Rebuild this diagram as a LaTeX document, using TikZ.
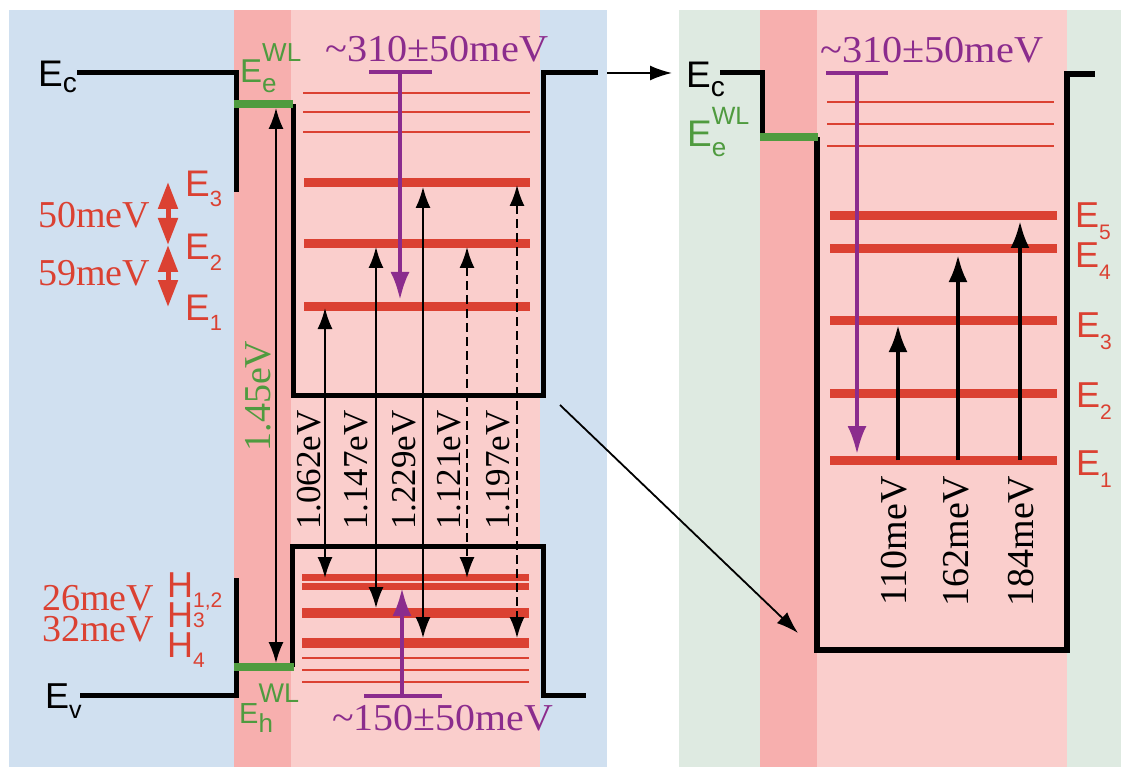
\documentclass[tikz,border=0pt]{standalone}
\usepackage{fontspec}
\setmainfont{Liberation Serif}
\newfontfamily\hv{Liberation Sans}
\usetikzlibrary{arrows.meta}
\definecolor{bgblue}{RGB}{208,224,240}
\definecolor{bggreen}{RGB}{222,234,225}
\definecolor{pinkd}{RGB}{247,175,174}
\definecolor{pinkl}{RGB}{250,206,204}
\definecolor{lred}{RGB}{219,65,50}
\definecolor{lgreen}{RGB}{79,155,63}
\definecolor{lpurple}{RGB}{139,44,141}
\newcommand\fsz[1]{\fontsize{#1}{#1}\selectfont}
\newcommand\plmi{\textpm}
\tikzset{
  lbl/.style={inner sep=0pt, anchor=base west},
  tight/.style={text height=26pt, text depth=0pt},
  lvl/.style={draw=lred, line width=9pt},
  lvlthin/.style={draw=lred, line width=2pt},
  wall/.style={draw=black, line width=5pt, line join=miter},
  wlbar/.style={draw=lgreen, line width=8pt},
  tr/.style={line width=1.8pt, {Latex[length=21pt,width=15pt]}-{Latex[length=21pt,width=15pt]}},
  trd/.style={tr, dash pattern=on 9pt off 5pt},
  up/.style={line width=4pt, -{Latex[length=27pt,width=19pt]}},
  pbar/.style={draw=lpurple, line width=4pt},
  parr/.style={draw=lpurple, line width=4pt, -{Latex[length=28pt,width=19pt]}},
  redarr/.style={draw=lred, line width=5pt, {Triangle[length=27pt,width=19pt]}-{Triangle[length=27pt,width=19pt]}},
  thinarr/.style={line width=1.8pt, -{Latex[length=22pt,width=15pt]}},
  rot/.style={inner sep=0pt, rotate=90, anchor=center},
  serif/.style={font=\fsz{38}},
}
\begin{document}
\begin{tikzpicture}[x=1pt,y=-1pt]
\useasboundingbox (0,0) rectangle (1121,767);
% backgrounds
\fill[bgblue] (9,10) rectangle (607,767);
\fill[pinkd] (234,10) rectangle (291,767);
\fill[pinkl] (291,10) rectangle (540,767);
\fill[bggreen] (679,10) rectangle (1121,767);
\fill[pinkd] (760,10) rectangle (817,767);
\fill[pinkl] (817,10) rectangle (1067,767);

% ---------- left panel levels
\foreach \y in {93,112,132} \draw[lvlthin] (303,\y) -- (530,\y);
\foreach \y in {183,244,306} \draw[lvl] (304,\y) -- (530,\y);
\draw[lvl, line width=7pt] (302,577.5) -- (529,577.5);
\draw[lvl, line width=7pt] (302,586.5) -- (529,586.5);
\foreach \y in {612.5,642.5} \draw[lvl, line width=10pt] (302,\y) -- (529,\y);
\foreach \y in {658,670,682} \draw[lvlthin] (302,\y) -- (529,\y);

% walls left
\draw[wall] (77,73) -- (236,73) -- (236,192);
\draw[wall] (293,104) -- (293,395) -- (543,395) -- (543,73) -- (598,73);
\draw[wall] (80,695) -- (236,695) -- (236,578);
\draw[wall] (292,667) -- (292,546) -- (543,546) -- (543,695) -- (586,695);
\draw[wlbar] (234,104) -- (293,104);
\draw[wlbar] (234,667) -- (294,667);

% transition coordinates (left)
\coordinate (ga) at (276,108); \coordinate (gb) at (276,663);
\coordinate (a1) at (325,308); \coordinate (b1) at (325,578);
\coordinate (a2) at (376,247); \coordinate (b2) at (376,608);
\coordinate (a3) at (423,187); \coordinate (b3) at (423,638);
\coordinate (a4) at (467,247); \coordinate (b4) at (467,578);
\coordinate (a5) at (517,185); \coordinate (b5) at (517,638);
\draw[tr] (ga) -- (gb);
\draw[tr] (a1) -- (b1);
\draw[tr] (a2) -- (b2);
\draw[tr] (a3) -- (b3);
\draw[trd] (a4) -- (b4);
\draw[trd] (a5) -- (b5);

% purple (left)
\coordinate (pt1) at (369,72); \coordinate (pt2) at (432,72);
\coordinate (pa) at (400,72); \coordinate (pb) at (400,300);
\draw[pbar] (pt1) -- (pt2);
\draw[parr] (pa) -- (pb);
\coordinate (qt1) at (364,696); \coordinate (qt2) at (442,696);
\coordinate (qa) at (402,696); \coordinate (qb) at (402,588);
\draw[pbar] (qt1) -- (qt2);
\draw[parr] (qa) -- (qb);

% red spacing arrows
\coordinate (r1) at (168,182); \coordinate (r2) at (168,245); \coordinate (r3) at (168,307);
\draw[redarr] (r1) -- (r2);
\draw[redarr] (r2) -- (r3);

% ---------- right panel levels
\foreach \y in {102,124,146} \draw[lvlthin] (827,\y) -- (1054,\y);
\foreach \y in {216,249,320,393,460} \draw[lvl] (830,\y) -- (1057,\y);
\draw[wall] (720,73) -- (762,73) -- (762,138);
\draw[wall, line width=5.5pt] (817,137) -- (817,650) -- (1067,650) -- (1067,74) -- (1095,74);
\draw[wlbar] (760,137) -- (818,137);

\coordinate (st1) at (826,73); \coordinate (st2) at (888,73);
\coordinate (sa) at (857,73); \coordinate (sb) at (857,454);
\draw[pbar] (st1) -- (st2);
\draw[parr, line width=3.5pt] (sa) -- (sb);

\coordinate (u1a) at (898,460); \coordinate (u1b) at (898,325);
\coordinate (u2a) at (958,460); \coordinate (u2b) at (958,255);
\coordinate (u3a) at (1020,460); \coordinate (u3b) at (1020,221);
\draw[up] (u1a) -- (u1b);
\draw[up] (u2a) -- (u2b);
\draw[up] (u3a) -- (u3b);

% connectors between panels
\coordinate (c1) at (607,73); \coordinate (c2) at (672,73);
\draw[thinarr] (c1) -- (c2);
\coordinate (d1) at (560,405); \coordinate (d2) at (798,633);
\draw[thinarr] (d1) -- (d2);

% ---------- text, left panel
\node[lbl] (ecl) at (38,87) {\hv\fsz{37}E\smash{\raisebox{-6pt}{\fsz{28}c}}};
\node[lbl, text=lgreen] (eel) at (240,83) {\hv\fsz{33}E\rlap{\raisebox{21pt}{\fsz{26}WL}}\smash{\raisebox{-10pt}{\fsz{26}e}}};
\node[lbl] (evl) at (45,708) {\hv\fsz{36}E\smash{\raisebox{-10pt}{\fsz{25}v}}};
\node[lbl, text=lgreen] (ehl) at (239,723) {\hv\fsz{29}E\rlap{\raisebox{21pt}{\fsz{27}WL}}\smash{\raisebox{-9pt}{\fsz{26}h}}};
\node[lbl, text=lred] (e3l) at (185,197) {\hv\fsz{37}E\smash{\raisebox{-10pt}{\fsz{22}3}}};
\node[lbl, text=lred] (e2l) at (185,260) {\hv\fsz{37}E\smash{\raisebox{-10pt}{\fsz{22}2}}};
\node[lbl, text=lred] (e1l) at (185,320) {\hv\fsz{37}E\smash{\raisebox{-10pt}{\fsz{22}1}}};
\node[lbl, tight, text=lred, serif] (m50) at (38,228) {50meV};
\node[lbl, tight, text=lred, serif] (m59) at (38,285) {59meV};
\node[lbl, tight, text=lred, serif] (m26) at (42,610) {26meV};
\node[lbl, tight, text=lred, serif] (m32) at (42,641) {32meV};
\node[lbl, tight, text=lred] (h12) at (167,597) {\hv\fsz{36}H\smash{\raisebox{-10pt}{\fsz{21}1,2}}};
\node[lbl, tight, text=lred] (h3) at (167,627) {\hv\fsz{36}H\smash{\raisebox{0pt}{\fsz{21}3}}};
\node[lbl, tight, text=lred] (h4) at (167,657) {\hv\fsz{36}H\smash{\raisebox{-10pt}{\fsz{21}4}}};
\node[lbl, text=lpurple, serif, xscale=1.06] (p310l) at (325,62) {\textasciitilde 310\plmi 50meV};
\node[lbl, text=lpurple, serif, xscale=1.05] (p150) at (332,730) {\textasciitilde 150\plmi 50meV};
\node[rot, text=lgreen, font=\fsz{38}] (g145) at (258,396) {1.45eV};
\node[rot, font=\fsz{35}] (t1) at (309,470) {1.062eV};
\node[rot, font=\fsz{35}] (t2) at (356,470) {1.147eV};
\node[rot, font=\fsz{35}] (t3) at (404,470) {1.229eV};
\node[rot, font=\fsz{35}] (t4) at (449,470) {1.121eV};
\node[rot, font=\fsz{35}] (t5) at (498,470) {1.197eV};

% ---------- text, right panel
\node[lbl] (ecr) at (686,88) {\hv\fsz{37}E\smash{\raisebox{-9pt}{\fsz{28}c}}};
\node[lbl, text=lgreen] (eer) at (687,147) {\hv\fsz{37}E\rlap{\raisebox{22pt}{\fsz{25}WL}}\smash{\raisebox{-10pt}{\fsz{26}e}}};
\node[lbl, text=lpurple, serif, xscale=1.06] (p310r) at (820,63) {\textasciitilde 310\plmi 50meV};
\node[lbl, text=lred] (e5r) at (1075,228) {\hv\fsz{36}E\smash{\raisebox{-12pt}{\fsz{21}5}}};
\node[lbl, text=lred] (e4r) at (1075,268) {\hv\fsz{36}E\smash{\raisebox{-12pt}{\fsz{21}4}}};
\node[lbl, text=lred] (e3r) at (1076,337) {\hv\fsz{36}E\smash{\raisebox{-12pt}{\fsz{21}3}}};
\node[lbl, text=lred] (e2r) at (1076,407) {\hv\fsz{36}E\smash{\raisebox{-12pt}{\fsz{21}2}}};
\node[lbl, text=lred] (e1r) at (1076,475) {\hv\fsz{36}E\smash{\raisebox{-12pt}{\fsz{21}1}}};
\node[rot, font=\fsz{38}] (m110) at (894,541) {110meV};
\node[rot, font=\fsz{38}] (m162) at (956,541) {162meV};
\node[rot, font=\fsz{38}] (m184) at (1021,541) {184meV};
\end{tikzpicture}
\end{document}
